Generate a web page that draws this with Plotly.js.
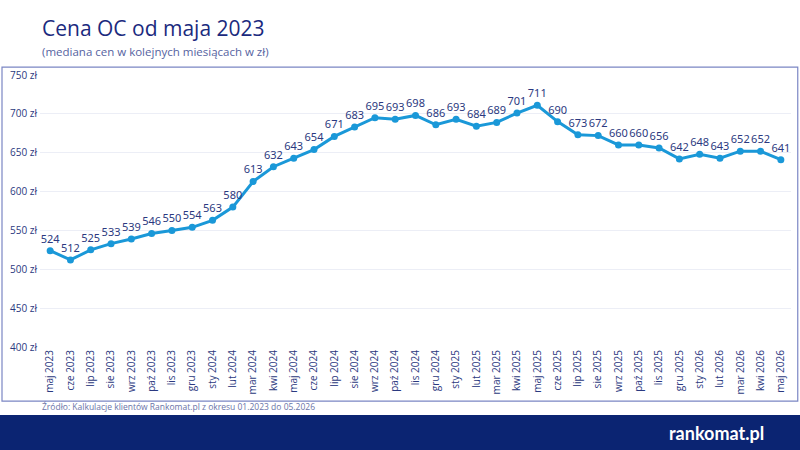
<!DOCTYPE html>
<html>
<head>
<meta charset="utf-8">
<script src="https://cdn.plot.ly/plotly-3.0.1.min.js"></script>
<style>
html, body { margin: 0; padding: 0; background: #fff; }
#chart { width: 800px; height: 450px; }
</style>
</head>
<body>
<div id="chart"></div>
<script>
var months = ['maj 2023','cze 2023','lip 2023','sie 2023','wrz 2023','paź 2023','lis 2023','gru 2023',
  'sty 2024','lut 2024','mar 2024','kwi 2024','maj 2024','cze 2024','lip 2024','sie 2024','wrz 2024',
  'paź 2024','lis 2024','gru 2024','sty 2025','lut 2025','mar 2025','kwi 2025','maj 2025','cze 2025',
  'lip 2025','sie 2025','wrz 2025','paź 2025','lis 2025','gru 2025','sty 2026','lut 2026','mar 2026',
  'kwi 2026','maj 2026'];
var prices = [524,512,525,533,539,546,550,554,563,580,613,632,643,654,671,683,695,693,698,686,
  693,684,689,701,711,690,673,672,660,660,656,642,648,643,652,652,641];
var yTicks = [400,450,500,550,600,650,700,750];
var yTickText = yTicks.map(function(v){ return v + ' zł'; });

var navy = '#1b2a7e';
var trace = {
  type: 'scatter',
  mode: 'lines+markers+text',
  x: months,
  y: prices,
  text: prices.map(String),
  textposition: 'top center',
  textfont: {family: 'Noto Sans, sans-serif', size: 11, color: '#2b3980'},
  line: {color: '#1a98d8', width: 3},
  marker: {color: '#1a98d8', size: 7},
  cliponaxis: false,
  hoverinfo: 'x+y'
};

var layout = {
  width: 800, height: 450,
  margin: {l: 40, r: 9, t: 75, b: 103},
  paper_bgcolor: '#fff',
  plot_bgcolor: '#fff',
  showlegend: false,
  font: {family: 'Open Sans, sans-serif', color: '#2b3980'},
  xaxis: {
    type: 'category',
    range: [-0.5, 36.5],
    tickangle: -90,
    tickfont: {size: 10, color: '#2b3980'},
    showgrid: false,
    zeroline: false,
    showline: false,
    ticks: '',
    fixedrange: true
  },
  yaxis: {
    range: [400, 750],
    tickvals: yTicks,
    ticktext: yTickText,
    tickfont: {size: 10, color: '#2b3980'},
    gridcolor: '#eceef6',
    gridwidth: 1,
    zeroline: false,
    showline: false,
    ticks: '',
    ticklabelstandoff: 2,
    fixedrange: true
  },
  shapes: [
    {type: 'rect', xref: 'paper', yref: 'paper', x0: -0.0506, x1: 1.009,
     y0: -0.199, y1: 1.029, line: {color: '#7b86c4', width: 1.2}, layer: 'below'},
    {type: 'rect', xref: 'paper', yref: 'paper', x0: -0.06, x1: 1.02,
     y0: -0.39, y1: -0.25, fillcolor: '#0b2472', line: {width: 0}, layer: 'below'}
  ],
  annotations: [
    {xref: 'paper', yref: 'paper', x: 0, y: 1.173, xanchor: 'left', yanchor: 'middle',
     text: 'Cena OC od maja 2023', showarrow: false,
     font: {size: 21, color: navy}},
    {xref: 'paper', yref: 'paper', x: 0, y: 1.085, xanchor: 'left', yanchor: 'middle',
     text: '(mediana cen w kolejnych miesiącach w zł)', showarrow: false,
     font: {size: 11.5, color: '#56639f'}},
    {xref: 'paper', yref: 'paper', x: 0, y: -0.22, xanchor: 'left', yanchor: 'middle',
     text: 'Źródło: Kalkulacje klientów Rankomat.pl z okresu 01.2023 do 05.2026', showarrow: false,
     font: {size: 8.5, color: '#6a74a8'}},
    {xref: 'paper', yref: 'paper', x: 0.901, y: -0.316, xanchor: 'center', yanchor: 'middle',
     text: '<b>rankomat.pl</b>', showarrow: false,
     font: {family: 'Lato, sans-serif', size: 18, color: '#ffffff'}}
  ]
};

Plotly.newPlot('chart', [trace], layout, {displayModeBar: false, staticPlot: true});
</script>
</body>
</html>
